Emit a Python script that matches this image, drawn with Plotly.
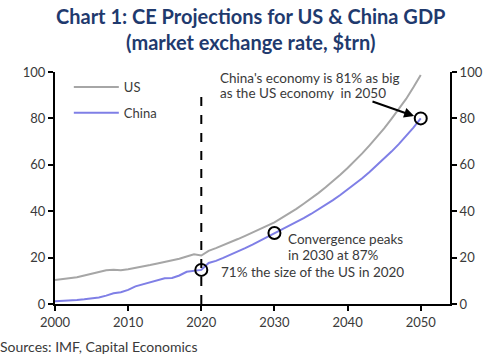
import plotly.graph_objects as go

years = list(range(2000, 2051))
us_gdp = [10.3, 10.6, 11.0, 11.5, 12.3, 13.0, 13.8, 14.5, 14.8, 14.5,
          15.0, 15.5, 16.2, 16.8, 17.5, 18.2, 18.7, 19.5, 20.5, 21.4,
          20.9, 22.9, 24.1, 25.3, 26.6, 28.0, 29.4, 30.9, 32.4, 33.8,
          35.2, 37.1, 39.0, 41.0, 43.2, 45.4, 47.8, 50.3, 52.9, 55.7,
          58.6, 61.7, 64.9, 68.4, 72.0, 75.7, 79.8, 84.0, 88.4, 93.4, 98.7]
china_gdp = [1.2, 1.3, 1.5, 1.7, 2.0, 2.3, 2.8, 3.6, 4.6, 5.1,
             6.1, 7.6, 8.5, 9.6, 10.5, 11.1, 11.2, 12.3, 13.9, 14.3,
             14.7, 17.7, 18.6, 19.9, 21.2, 22.6, 24.1, 25.6, 27.2, 28.9,
             30.6, 32.1, 33.7, 35.3, 37.0, 38.8, 40.7, 42.7, 44.8, 47.0,
             49.3, 51.7, 54.2, 56.9, 59.7, 62.6, 65.7, 68.9, 72.3, 76.0, 80.0]
marker_years = [2020, 2030, 2050]
marker_vals = [14.7, 30.6, 80.0]
x_ticks = [2000, 2010, 2020, 2030, 2040, 2050]
y_ticks = [0, 20, 40, 60, 80, 100]

font = "Lato"
txt = "#3A3A3A"
navy = "#1F3A6E"

fig = go.Figure()
fig.add_trace(go.Scatter(x=years, y=us_gdp, mode="lines", name="US", legendgroup="us",
                         line=dict(color="#A6A6A6", width=2)))
fig.add_trace(go.Scatter(x=years, y=china_gdp, mode="lines", name="China", legendgroup="cn",
                         line=dict(color="#7F7FE6", width=2)))
fig.add_trace(go.Scatter(x=marker_years, y=marker_vals, mode="markers", showlegend=False,
                         marker=dict(size=12, color="rgba(0,0,0,0)",
                                     line=dict(color="black", width=2))))
fig.add_trace(go.Scatter(x=[2000], y=[0], yaxis="y2", mode="markers", showlegend=False,
                         marker=dict(opacity=0), hoverinfo="skip"))

fig.add_shape(type="line", x0=2020, x1=2020, y0=0, y1=91, xref="x", yref="y",
              line=dict(color="black", width=2, dash="dash"))

fig.add_annotation(x=2050, y=80, ax=2043.2, ay=87.5, xref="x", yref="y", axref="x", ayref="y",
                   showarrow=True, arrowhead=2, arrowsize=1, arrowwidth=2, arrowcolor="black",
                   standoff=7, text="")

text_lines = [
    ("China's economy is 81% as big", 2022.3, 97.4),
    ("as the US economy  in 2050", 2022.3, 91.0),
    ("Convergence peaks", 2031.6, 28.0),
    ("in 2030 at 87%", 2031.6, 21.1),
    ("71% the size of the US in 2020", 2022.4, 13.8),
]
for t, xv, yv in text_lines:
    fig.add_annotation(x=xv, y=yv, xref="x", yref="y", xanchor="left", yanchor="middle",
                       showarrow=False, align="left", text=t,
                       font=dict(family=font, size=13.5, color=txt))

fig.add_annotation(x=0, y=0, xref="paper", yref="paper", xanchor="left", yanchor="bottom",
                   xshift=-57, yshift=-53, showarrow=False,
                   text="Sources: IMF, Capital Economics",
                   font=dict(family=font, size=14, color=txt))

# title lines (pixel centres ~16 and ~42 from top; plot top at 72px, plot height 232px)
plot_h = 357 - 72 - 53
for line_text, ypix in [("Chart 1: CE Projections for US & China GDP", 16),
                        ("(market exchange rate, $trn)", 42)]:
    fig.add_annotation(x=(250 - 55) / (500 - 55 - 50), y=1 + (72 - ypix) / plot_h,
                       xref="paper", yref="paper", xanchor="center", yanchor="middle",
                       showarrow=False, text="<b>" + line_text + "</b>",
                       font=dict(family=font, size=20, color=navy))

axis_common = dict(showgrid=False, zeroline=False, showline=True, linecolor="black",
                   linewidth=2, ticks="outside", tickcolor="black", ticklen=5,
                   tickwidth=2, tickfont=dict(family=font, size=13, color=txt))

fig.update_layout(
    width=500, height=357,
    margin=dict(l=55, r=50, t=72, b=53),
    paper_bgcolor="white", plot_bgcolor="white",
    xaxis=dict(range=[2000, 2054], tickvals=x_ticks, **axis_common),
    yaxis=dict(range=[0, 100], tickvals=y_ticks, **axis_common),
    yaxis2=dict(range=[0, 100], tickvals=y_ticks, overlaying="y", side="right", **axis_common),
    legend=dict(x=0.035, y=1.0, xanchor="left", yanchor="top", bgcolor="rgba(0,0,0,0)",
                font=dict(family=font, size=13, color=txt), tracegroupgap=6,
                itemwidth=45),
    showlegend=True,
)

fig.write_html("out.html", config={"displayModeBar": False},
               post_script="document.body.style.margin='0';")
